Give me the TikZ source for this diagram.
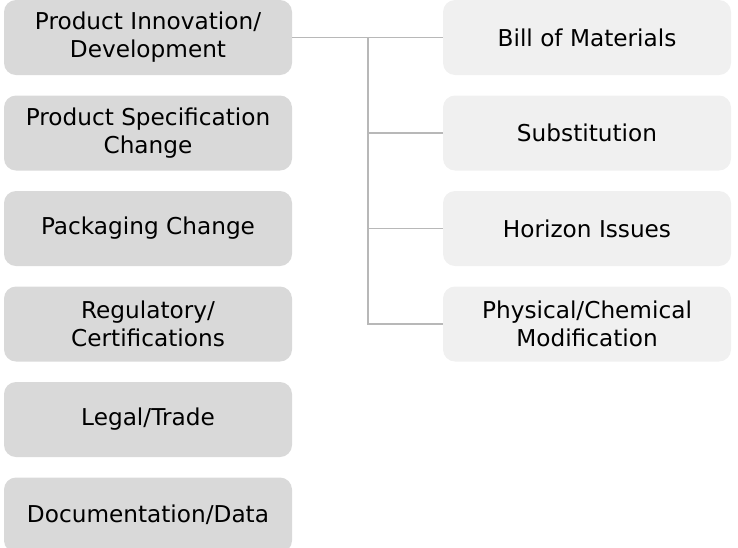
\documentclass[tikz,border=0pt]{standalone}
\usepackage{fontspec}
\setmainfont{DejaVu Sans}
\usetikzlibrary{positioning}

\definecolor{leftgray}{HTML}{D9D9D9}
\definecolor{rightgray}{HTML}{F0F0F0}
\definecolor{linkgray}{HTML}{B8B8B8}

\begin{document}
\begin{tikzpicture}[x=1pt,y=1pt,node distance=95.5pt,on grid,
    box/.style={rounded corners=12pt,minimum width=288pt,minimum height=75pt,
      inner sep=0pt,align=center,font=\fontsize{23.2}{28}\selectfont,text=black},
    lbox/.style={box,fill=leftgray},
    rbox/.style={box,fill=rightgray},
    link/.style={draw=linkgray,line width=1.6pt}]
    \useasboundingbox (0,0) rectangle (738,-547);

    \node[lbox] (L1) at (148,-37.5) {Product Innovation/\\Development};
    \node[lbox] (L2) [below=of L1] {Product Specification\\Change};
    \node[lbox] (L3) [below=of L2] {Packaging Change};
    \node[lbox] (L4) [below=of L3] {Regulatory/\\Certifications};
    \node[lbox] (L5) [below=of L4] {Legal/Trade};
    \node[lbox] (L6) [below=of L5] {Documentation/Data};

    \node[rbox] (R1) at (587,-37.5) {Bill of Materials};
    \node[rbox] (R2) [below=of R1] {Substitution};
    \node[rbox] (R3) [below=of R2] {Horizon Issues};
    \node[rbox] (R4) [below=of R3] {Physical/Chemical\\Modification};

    \coordinate (J) at (368,-37.5);
    %\coordinate (J) at ($(L1.east)!0.5!(R1.west)$);
    \path[link] (L1) -- (R1);
    \path[link] (J) |- (R4);
    \path[link] (J) |- (R2);
    \path[link] (J) |- (R3);

\end{tikzpicture}
\end{document}
